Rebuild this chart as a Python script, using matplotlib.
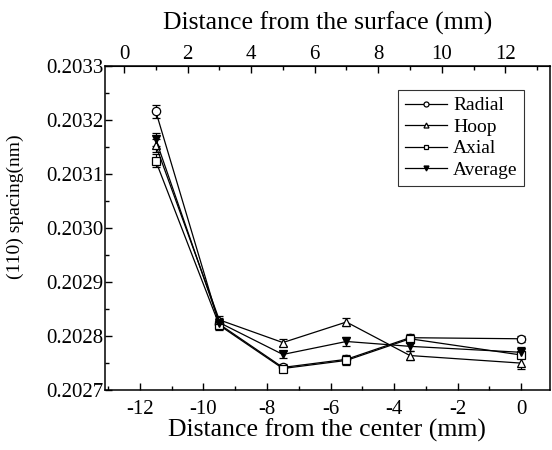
import matplotlib.pyplot as plt

plt.rcParams["font.family"] = ["Liberation Serif", "DejaVu Serif"]
plt.rcParams["axes.unicode_minus"] = False

# distance from the center (mm); top axis = center distance + 12.5
x_center = [-11.5, -9.5, -7.5, -5.5, -3.5, 0.0]
offset = 12.5

radial = [0.203216, 0.202822, 0.202742, 0.202757, 0.202797, 0.202795]
hoop = [0.203153, 0.202830, 0.202788, 0.202826, 0.202764, 0.202750]
axial = [0.203124, 0.202820, 0.202740, 0.202755, 0.202795, 0.202765]
average = [0.203164, 0.202825, 0.202766, 0.202790, 0.202781, 0.202770]

radial_err = [0.000012, 0.000008, 0.000006, 0.000008, 0.000006, 0.000006]
hoop_err = [0.000012, 0.000008, 0.000006, 0.000008, 0.000008, 0.000010]
axial_err = [0.000012, 0.000008, 0.000006, 0.000008, 0.000006, 0.000006]
average_err = [0.000012, 0.000008, 0.000006, 0.000008, 0.000008, 0.000010]

fig = plt.figure(figsize=(5.52, 4.5), dpi=100)
ax = fig.add_axes([0.190, 0.133, 0.806, 0.721])

series = [
    ("Radial", radial, radial_err, "o", "white"),
    ("Axial", axial, axial_err, "s", "white"),
    ("Hoop", hoop, hoop_err, "^", "white"),
    ("Average", average, average_err, "v", "black"),
]
lines = {}
for name, vals, err, mk, fc in series:
    cont = ax.errorbar(
        x_center, vals, yerr=err, color="black", lw=0.9,
        marker=mk, ms=6, mfc=fc, mec="black", mew=0.9,
        capsize=3, elinewidth=0.9, capthick=0.9,
    )
    lines[name] = cont[0]

ax.set_xlim(-13.1, 0.9)
ax.set_ylim(0.2027, 0.2033)
ax.set_xticks([-12, -10, -8, -6, -4, -2, 0])
ax.set_xticks([-13, -11, -9, -7, -5, -3, -1], minor=True)
ax.set_yticks([0.2027, 0.2028, 0.2029, 0.2030, 0.2031, 0.2032, 0.2033])
ax.set_yticklabels(["0.2027", "0.2028", "0.2029", "0.2030", "0.2031", "0.2032", "0.2033"])
ax.set_yticks([0.20275, 0.20285, 0.20295, 0.20305, 0.20315, 0.20325], minor=True)
ax.tick_params(direction="in", which="major", length=5, width=1, labelsize=15)
ax.tick_params(direction="in", which="minor", length=3, width=1)
ax.tick_params(axis="y", pad=1)
ax.tick_params(axis="x", pad=7)
ax.set_xlabel("Distance from the center (mm)", fontsize=18.5)
ax.xaxis.set_label_coords(0.5, -0.088)
ax.set_ylabel("(110) spacing(nm)", fontsize=14)
ax.yaxis.set_label_coords(-0.182, 0.566)

top = ax.secondary_xaxis("top", functions=(lambda v: v + offset, lambda v: v - offset))
top.set_xticks([0, 2, 4, 6, 8, 10, 12])
top.set_xticks([1, 3, 5, 7, 9, 11, 13], minor=True)
top.tick_params(direction="in", which="major", length=5, width=1, labelsize=15, pad=1)
top.tick_params(direction="in", which="minor", length=3, width=1)
top.set_xlabel("Distance from the surface (mm)", fontsize=18.5, labelpad=11)

for s in ax.spines.values():
    s.set_linewidth(1.1)

order = ["Radial", "Hoop", "Axial", "Average"]
leg = ax.legend(
    [lines[n] for n in order], order,
    loc="upper right", bbox_to_anchor=(0.965, 0.955), fontsize=14,
    frameon=True, fancybox=False, edgecolor="black", markerscale=0.6,
    handlelength=2.2, labelspacing=0.2, borderpad=0.35, handletextpad=0.3,
)
leg.get_frame().set_linewidth(0.8)

fig.savefig("out.png", dpi=100)
